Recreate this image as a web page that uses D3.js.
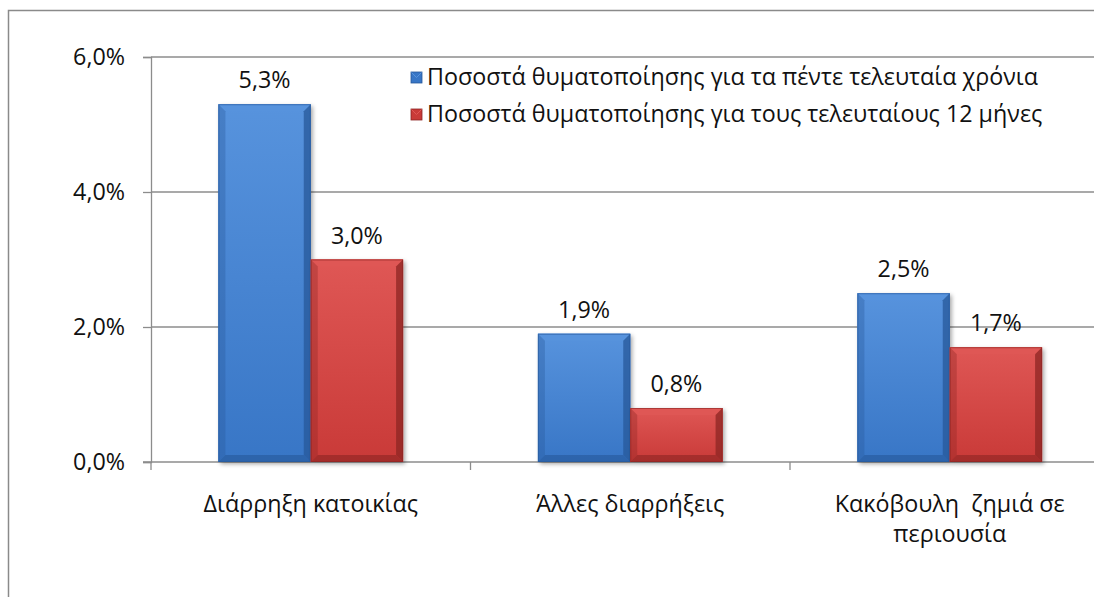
<!DOCTYPE html>
<html>
<head>
  <meta charset="utf-8">
  <title>Ποσοστά θυματοποίησης</title>
  <script src="https://d3js.org/d3.v7.min.js"></script>
  <style>
    html, body { margin: 0; background: #fff; overflow: hidden; }
    svg { display: block; }
    text { font-family: "Open Sans", "DejaVu Sans", sans-serif; fill: #111; }
  </style>
</head>
<body>
  <div id="vis"></div>
  <script>
    const width = 1094
    const height = 597

    // data
    const categories = ["Διάρρηξη κατοικίας", "Άλλες διαρρήξεις", "Κακόβουλη  ζημιά σε περιουσία"]
    const seriesNames = [
      "Ποσοστά θυματοποίησης για τα πέντε τελευταία χρόνια",
      "Ποσοστά θυματοποίησης για τους τελευταίους 12 μήνες"
    ]
    const fiveYears = [5.3, 1.9, 2.5]
    const twelveMonths = [3.0, 0.8, 1.7]
    const yTicks = [0, 2, 4, 6]
    // labels that wrap onto two lines
    const catLines = [["Διάρρηξη κατοικίας"], ["Άλλες διαρρήξεις"], ["Κακόβουλη  ζημιά σε", "περιουσία"]]

    const colors = [
      { base: "#3876c6", light: "#5793dd", dark: "#27589a" },
      { base: "#c93a38", light: "#df5755", dark: "#8c2523" }
    ]
    const fontSize = "23.3px"

    const margin = { left: 151, top: 57, right: -15.5, bottom: 135 }
    const plotW = width - margin.left - margin.right
    const plotH = height - margin.top - margin.bottom

    const svg = d3.select("#vis")
      .append("svg")
      .attr("width", width)
      .attr("height", height)

    const defs = svg.append("defs")
    colors.forEach((c, i) => {
      let g = defs.append("linearGradient").attr("id", "grad" + i)
        .attr("x1", 0).attr("x2", 0).attr("y1", 0).attr("y2", 1)
      g.append("stop").attr("offset", "0%").attr("stop-color", c.light)
      g.append("stop").attr("offset", "100%").attr("stop-color", c.base)
    })
    let shadow = defs.append("filter").attr("id", "shadow")
      .attr("x", "-20%").attr("y", "-20%").attr("width", "140%").attr("height", "140%")
    shadow.append("feDropShadow").attr("dx", 2).attr("dy", 2).attr("stdDeviation", 2)
      .attr("flood-color", "#000").attr("flood-opacity", 0.35)

    // outer chart border
    svg.append("path")
      .attr("d", `M8.5,${height + 5} V10.5 H${width + 5}`)
      .attr("fill", "none")
      .attr("stroke", "#8a8a8a")
      .attr("stroke-width", 1.5)

    const x = d3.scaleBand()
      .domain(categories)
      .range([margin.left, margin.left + plotW])

    const xSub = d3.scaleBand()
      .domain([0, 1])
      .range([0, x.bandwidth()])
      .paddingInner(0)
      .paddingOuter(0.73)

    const y = d3.scaleLinear()
      .domain([0, 6])
      .range([margin.top + plotH, margin.top])

    // gridlines
    svg.append("g")
      .selectAll("line")
      .data(yTicks.slice(1))
      .enter()
      .append("line")
      .attr("x1", margin.left)
      .attr("x2", margin.left + plotW)
      .attr("y1", d => y(d))
      .attr("y2", d => y(d))
      .attr("stroke", "#8c8c8c")
      .attr("stroke-width", 1.3)

    // y axis
    const yAxis = svg.append("g")
      .attr("transform", `translate(${margin.left},0)`)
      .call(d3.axisLeft(y).tickValues(yTicks).tickSize(8).tickPadding(18)
        .tickFormat(d => d3.format(".1f")(d).replace(".", ",") + "%"))
    yAxis.select(".domain").attr("stroke", "#8c8c8c").attr("stroke-width", 1.3)
    yAxis.selectAll(".tick line").attr("stroke", "#8c8c8c").attr("stroke-width", 1.3)
    yAxis.selectAll("text").style("font-size", fontSize).attr("fill", "#111")
      .style("font-family", "'Open Sans', sans-serif")

    // x axis
    const xAxis = svg.append("g")
      .attr("transform", `translate(0,${y(0)})`)
    xAxis.append("line")
      .attr("x1", margin.left - 8).attr("x2", margin.left + plotW)
      .attr("y1", 0).attr("y2", 0)
      .attr("stroke", "#8c8c8c").attr("stroke-width", 1.3)
    xAxis.selectAll("line.tick")
      .data(d3.range(categories.length + 1))
      .enter()
      .append("line")
      .attr("class", "tick")
      .attr("x1", i => margin.left + i * x.step())
      .attr("x2", i => margin.left + i * x.step())
      .attr("y1", 0).attr("y2", 8)
      .attr("stroke", "#8c8c8c").attr("stroke-width", 1.3)

    // category labels, one text per line
    categories.forEach((c, i) => {
      catLines[i].forEach((line, j) => {
        xAxis.append("text")
          .attr("class", "cat")
          .attr("text-anchor", "middle")
          .attr("x", x(c) + x.bandwidth() / 2)
          .attr("y", 50 + j * 30)
          .style("font-size", fontSize)
          .style("white-space", "pre")
          .text(line)
      })
    })

    // bars
    const series = [fiveYears, twelveMonths]
    const bev = 7
    series.forEach((vals, s) => {
      let g = svg.append("g")
      let bars = g.selectAll("g.bar")
        .data(categories.map((c, i) => ({ cat: c, v: vals[i] })))
        .enter()
        .append("g")
        .attr("class", "bar")

      bars.each(function (d) {
        let x0 = x(d.cat) + xSub(s)
        let w = xSub.bandwidth()
        let y0 = y(d.v)
        let h = y(0) - y0
        let b = d3.select(this)
        b.append("rect")
          .attr("x", x0).attr("y", y0).attr("width", w).attr("height", h)
          .attr("fill", colors[s].base)
          .attr("filter", "url(#shadow)")
        b.append("rect")
          .attr("x", x0).attr("y", y0).attr("width", w).attr("height", h)
          .attr("fill", `url(#grad${s})`)
        // bevel: top, left, right, bottom
        b.append("path")
          .attr("d", `M${x0},${y0} L${x0 + w},${y0} L${x0 + w - bev},${y0 + bev} L${x0 + bev},${y0 + bev} Z`)
          .attr("fill", colors[s].light).attr("opacity", 1)
        b.append("path")
          .attr("d", `M${x0},${y0} L${x0 + bev},${y0 + bev} L${x0 + bev},${y0 + h - bev} L${x0},${y0 + h} Z`)
          .attr("fill", colors[s].dark).attr("opacity", 0.35)
        b.append("path")
          .attr("d", `M${x0 + w},${y0} L${x0 + w - bev},${y0 + bev} L${x0 + w - bev},${y0 + h - bev} L${x0 + w},${y0 + h} Z`)
          .attr("fill", colors[s].dark).attr("opacity", 0.75)
        b.append("path")
          .attr("d", `M${x0},${y0 + h} L${x0 + bev},${y0 + h - bev} L${x0 + w - bev},${y0 + h - bev} L${x0 + w},${y0 + h} Z`)
          .attr("fill", colors[s].dark).attr("opacity", 0.6)
        b.append("rect")
          .attr("x", x0 + 0.5).attr("y", y0 + 0.5).attr("width", w - 1).attr("height", h - 1)
          .attr("fill", "none").attr("stroke", colors[s].dark).attr("stroke-width", 1)
          .attr("opacity", 0.6)

        b.append("text")
          .attr("x", x0 + w / 2)
          .attr("y", y0 - 16)
          .attr("text-anchor", "middle")
          .style("font-size", fontSize)
          .text(d3.format(".1f")(d.v).replace(".", ",") + "%")
      })
    })

    // legend
    const legend = svg.append("g")
      .attr("transform", "translate(411,77)")
    seriesNames.forEach((name, i) => {
      let row = legend.append("g").attr("transform", `translate(0,${i * 37})`)
      row.append("rect")
        .attr("x", 0).attr("y", -5).attr("width", 11).attr("height", 11)
        .attr("fill", colors[i].base)
        .attr("stroke", colors[i].dark).attr("stroke-width", 0.8)
      row.append("path")
        .attr("d", "M0.5,-4.5 L5.5,0.5 L10.5,-4.5")
        .attr("fill", "none").attr("stroke", colors[i].light).attr("stroke-width", 1)
      row.append("text")
        .attr("x", 16)
        .attr("y", 8)
        .style("font-size", fontSize)
        .text(name)
    })
  </script>
</body>
</html>
